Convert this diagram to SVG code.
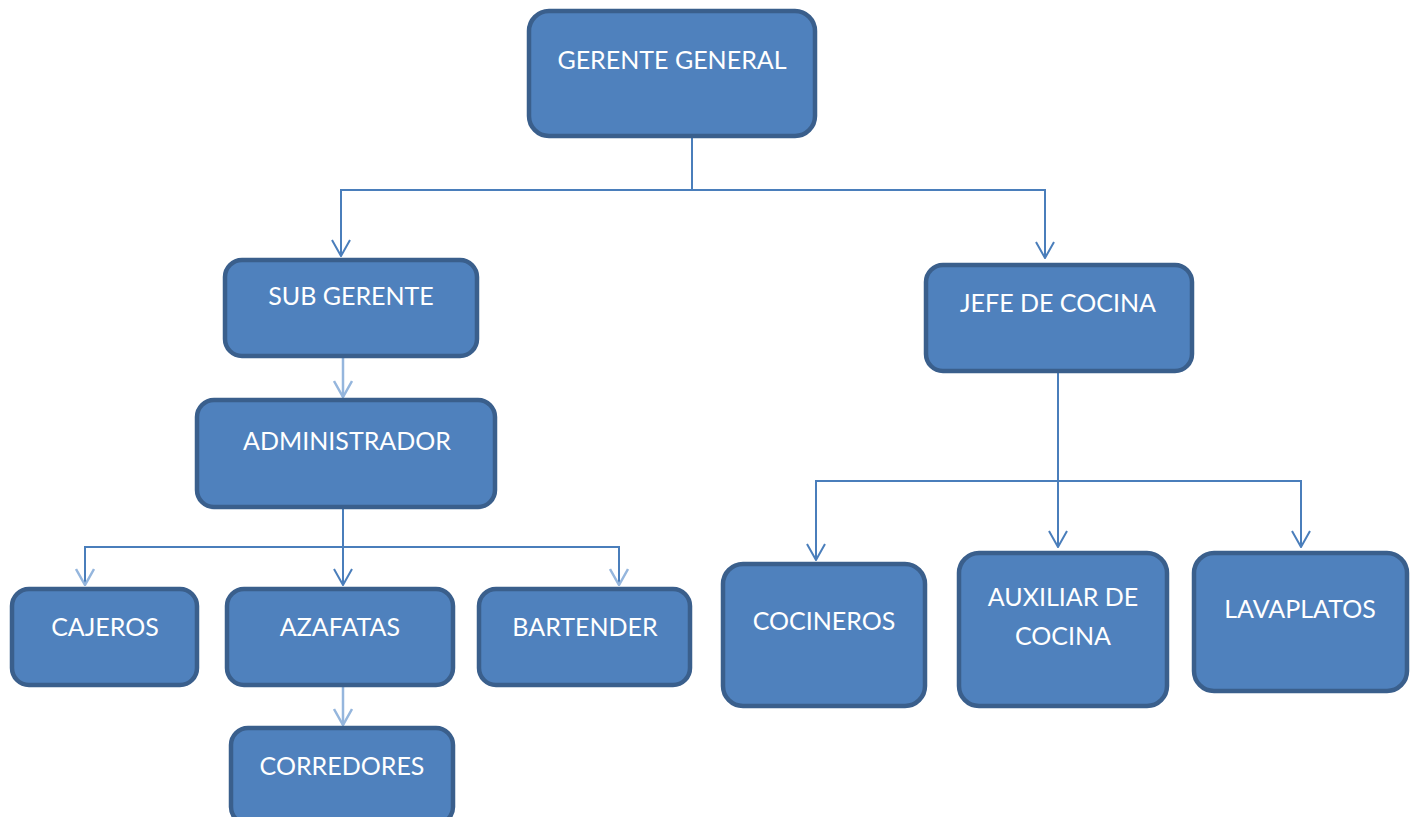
<svg xmlns="http://www.w3.org/2000/svg" width="1415" height="817" viewBox="0 0 1415 817">
<defs>
<style>
.n{fill:#4F81BD;stroke:#3A5F8C;stroke-width:4.5}
.t{fill:#fff;font-family:Lato,"Liberation Sans",sans-serif;font-size:25px;text-anchor:middle}
.c{fill:none;stroke:#4A7EBB;stroke-width:2}
.l{fill:none;stroke:#95B6DD;stroke-width:2.5}
</style>
<marker id="a" viewBox="0 0 20 20" refX="10" refY="19" markerWidth="20" markerHeight="20" markerUnits="userSpaceOnUse">
<path d="M1 3 L10 19 L19 3" fill="none" stroke="#4A7EBB" stroke-width="2"/>
</marker>
<marker id="b" viewBox="0 0 20 20" refX="10" refY="19" markerWidth="20" markerHeight="20" markerUnits="userSpaceOnUse">
<path d="M1 3 L10 19 L19 3" fill="none" stroke="#95B6DD" stroke-width="2.5"/>
</marker>
</defs>
<g id="connectors">
<path class="c" d="M692 138 V190 H341 V256" marker-end="url(#a)"/>
<path class="c" d="M692 190 H1045 V258" marker-end="url(#a)"/>
<path class="l" d="M343 358 V397" marker-end="url(#b)"/>
<path class="c" d="M343 509 V585" marker-end="url(#a)"/>
<path class="c" d="M343 547 H85 V585" marker-end="url(#b)"/>
<path class="c" d="M343 547 H619 V585" marker-end="url(#b)"/>
<path class="l" d="M343 687 V725" marker-end="url(#b)"/>
<path class="c" d="M1058 373 V547" marker-end="url(#a)"/>
<path class="c" d="M1058 481 H816 V560" marker-end="url(#a)"/>
<path class="c" d="M1058 481 H1301 V547" marker-end="url(#a)"/>
</g>
<g id="gerente-general"><rect class="n" x="529" y="11" width="286" height="125" rx="20"/><text class="t" x="672" y="69">GERENTE GENERAL</text></g>
<g id="sub-gerente"><rect class="n" x="225" y="260" width="252" height="96" rx="17"/><text class="t" x="351" y="305">SUB GERENTE</text></g>
<g id="administrador"><rect class="n" x="197" y="400" width="298" height="107" rx="17"/><text class="t" x="347" y="450">ADMINISTRADOR</text></g>
<g id="cajeros"><rect class="n" x="12" y="589" width="185" height="96" rx="17"/><text class="t" x="105" y="636">CAJEROS</text></g>
<g id="azafatas"><rect class="n" x="227" y="589" width="226" height="96" rx="17"/><text class="t" x="340" y="636">AZAFATAS</text></g>
<g id="bartender"><rect class="n" x="479" y="589" width="211" height="96" rx="17"/><text class="t" x="585" y="636">BARTENDER</text></g>
<g id="corredores"><rect class="n" x="231" y="728" width="222" height="96" rx="17"/><text class="t" x="342" y="775">CORREDORES</text></g>
<g id="jefe-de-cocina"><rect class="n" x="926" y="265" width="266" height="106" rx="17"/><text class="t" x="1058" y="312">JEFE DE COCINA</text></g>
<g id="cocineros"><rect class="n" x="723" y="564" width="202" height="142" rx="20"/><text class="t" x="824" y="630">COCINEROS</text></g>
<g id="auxiliar-de-cocina"><rect class="n" x="959" y="553" width="208" height="153" rx="20"/><text class="t" x="1063" y="606">AUXILIAR DE</text><text class="t" x="1063" y="645">COCINA</text></g>
<g id="lavaplatos"><rect class="n" x="1194" y="553" width="213" height="138" rx="20"/><text class="t" x="1300" y="618">LAVAPLATOS</text></g>
</svg>
